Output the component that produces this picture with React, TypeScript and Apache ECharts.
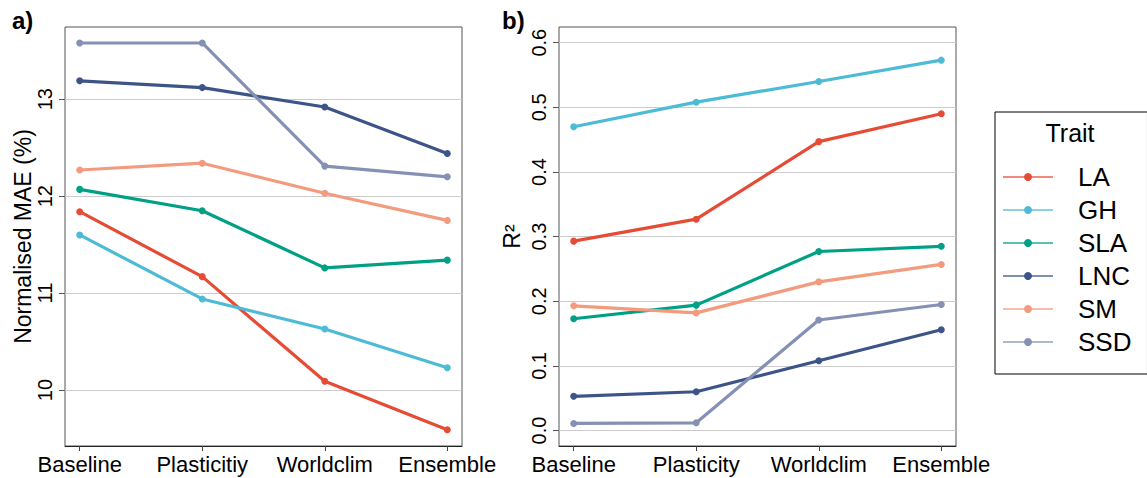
import React, { useEffect, useRef } from "react";
import * as echarts from "echarts";

const scenariosA = ["Baseline", "Plasticitiy", "Worldclim", "Ensemble"];
const scenariosB = ["Baseline", "Plasticity", "Worldclim", "Ensemble"];
const traits = ["LA", "GH", "SLA", "LNC", "SM", "SSD"];
const traitColors = ["#E64B35", "#4DBBD5", "#00A087", "#3C5488", "#F39B7F", "#8491B4"];

// Panel a: Normalised MAE (%)
const maeLA = [11.84, 11.17, 10.09, 9.59];
const maeGH = [11.6, 10.94, 10.63, 10.23];
const maeSLA = [12.07, 11.85, 11.26, 11.34];
const maeLNC = [13.19, 13.12, 12.92, 12.44];
const maeSM = [12.27, 12.34, 12.03, 11.75];
const maeSSD = [13.58, 13.58, 12.31, 12.2];

// Panel b: R²
const r2LA = [0.293, 0.327, 0.447, 0.49];
const r2GH = [0.47, 0.508, 0.54, 0.573];
const r2SLA = [0.173, 0.194, 0.277, 0.285];
const r2LNC = [0.053, 0.06, 0.108, 0.156];
const r2SM = [0.193, 0.182, 0.23, 0.257];
const r2SSD = [0.011, 0.012, 0.171, 0.195];

const maeTicks = [10, 11, 12, 13];
const r2Ticks = [0, 0.1, 0.2, 0.3, 0.4, 0.5, 0.6];
const xTicks = [1, 2, 3, 4];

const maeSeries = [maeLA, maeGH, maeSLA, maeLNC, maeSM, maeSSD];
const r2Series = [r2LA, r2GH, r2SLA, r2LNC, r2SM, r2SSD];

const FONT = "Liberation Sans, Arial, sans-serif";

function makeXAxis(gridIndex: number, cats: string[]) {
  return {
    type: "value",
    gridIndex,
    min: 0.88,
    max: 4.12,
    axisLine: { show: true, onZero: false, lineStyle: { color: "#222", width: 1 } },
    axisTick: { show: true, customValues: xTicks, length: 5, lineStyle: { color: "#444" } },
    axisLabel: {
      customValues: xTicks,
      formatter: (v: number) => cats[Math.round(v) - 1] ?? "",
      fontSize: 22,
      color: "#000",
      margin: 7,
      fontFamily: FONT,
    },
    splitLine: { show: false },
  };
}

function makeYAxis(gridIndex: number, min: number, max: number, ticks: number[], name: string, nameGap: number, fmt: (v: number) => string) {
  return {
    type: "value",
    gridIndex,
    min,
    max,
    name,
    nameLocation: "middle",
    nameGap,
    nameTextStyle: { fontSize: 23, color: "#000", fontFamily: FONT },
    axisLine: { show: false },
    axisTick: { show: true, customValues: ticks, length: 6, lineStyle: { color: "#555" } },
    axisLabel: {
      customValues: ticks,
      rotate: 90,
      formatter: fmt,
      fontSize: 20,
      color: "#000",
      margin: 10,
      fontFamily: FONT,
    },
    splitLine: { show: true, lineStyle: { color: "#cccccc", width: 1 } },
  };
}

export default function App() {
  const ref = useRef<HTMLDivElement>(null);
  useEffect(() => {
    if (!ref.current) return;
    const chart = echarts.init(ref.current, undefined, { renderer: "svg" });
    const series: any[] = [];
    traits.forEach((t, i) => {
      const common = {
        type: "line",
        name: t,
        symbol: "circle",
        symbolSize: 7,
        showSymbol: true,
        lineStyle: { width: 3.2, color: traitColors[i] },
        itemStyle: { color: traitColors[i] },
        emphasis: { disabled: true },
      };
      series.push({
        ...common,
        xAxisIndex: 0,
        yAxisIndex: 0,
        data: maeSeries[i].map((v, j) => [j + 1, v]),
      });
      series.push({
        ...common,
        xAxisIndex: 1,
        yAxisIndex: 1,
        data: r2Series[i].map((v, j) => [j + 1, v]),
      });
    });
    chart.setOption({
      animation: false,
      backgroundColor: "#fff",
      textStyle: { fontFamily: FONT },
      grid: [
        { left: 65, top: 27, width: 397, height: 419, show: true, borderColor: "#555", borderWidth: 1, backgroundColor: "transparent" },
        { left: 559, top: 27, width: 397, height: 419, show: true, borderColor: "#555", borderWidth: 1, backgroundColor: "transparent" },
      ],
      xAxis: [makeXAxis(0, scenariosA), makeXAxis(1, scenariosB)],
      yAxis: [
        makeYAxis(0, 9.423, 13.745, maeTicks, "Normalised MAE (%)", 29, (v: number) => String(v)),
        makeYAxis(1, -0.0239, 0.6243, r2Ticks, "R²", 36, (v: number) => v.toFixed(1)),
      ],
      legend: {
        show: true,
        orient: "vertical",
        left: 995,
        top: 112,
        data: traits,
        itemWidth: 50,
        itemHeight: 10,
        itemGap: 7,
        padding: [52, 16, 19, 7],
        borderColor: "#000",
        borderWidth: 1,
        selectedMode: false,
        lineStyle: { width: 2, opacity: 0.65 },
        textStyle: { fontSize: 26, color: "#000", fontFamily: FONT, padding: [0, 0, 0, 20] },
      },
      graphic: [
        { type: "text", x: 12, y: 8, style: { text: "a)", fontSize: 24, fontWeight: "bold", fill: "#000", fontFamily: FONT } },
        { type: "text", x: 502, y: 8, style: { text: "b)", fontSize: 24, fontWeight: "bold", fill: "#000", fontFamily: FONT } },
        { type: "text", x: 1070, y: 133, style: { text: "Trait", fontSize: 25, fill: "#000", align: "center", verticalAlign: "middle", fontFamily: FONT } },
      ],
      series,
    });
    return () => chart.dispose();
  }, []);
  return <div ref={ref} style={{ position: "absolute", left: 0, top: 0, width: 1147, height: 478 }} />;
}
